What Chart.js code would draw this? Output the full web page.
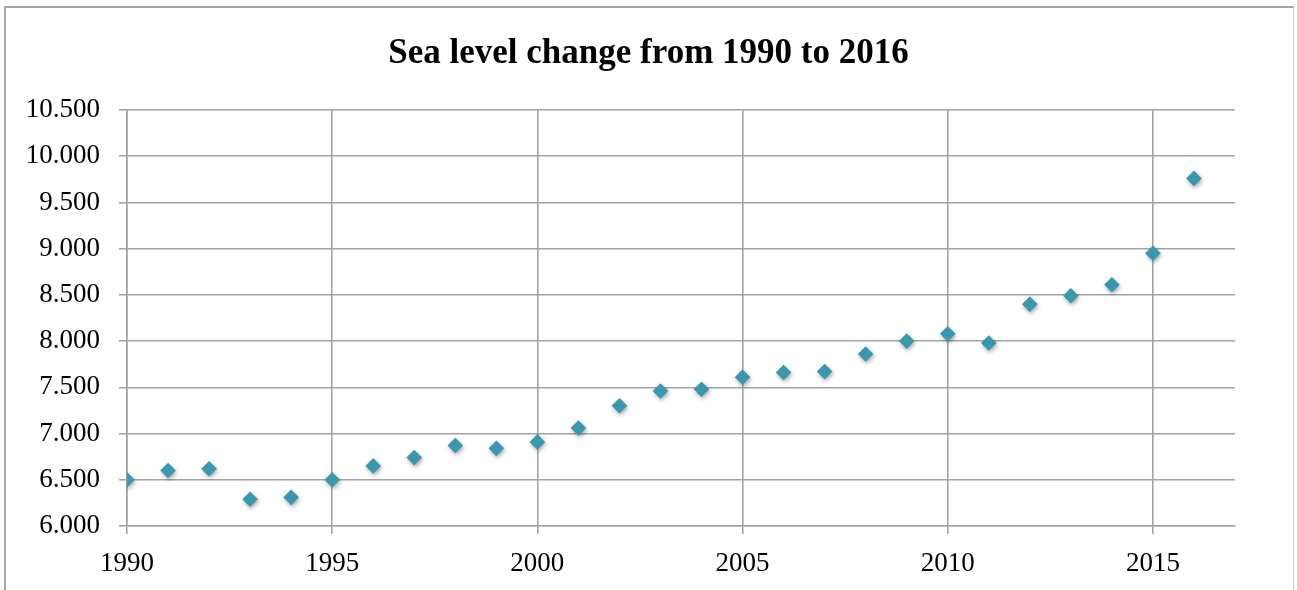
<!DOCTYPE html>
<html>
<head>
<meta charset="utf-8">
<script src="https://cdn.jsdelivr.net/npm/chart.js@4/dist/chart.umd.min.js"></script>
<style>
  html, body { margin: 0; padding: 0; background: #ffffff; }
  body { width: 1297px; height: 590px; position: relative; overflow: hidden; }
  #frame {
    position: absolute; left: 4px; top: 6px; width: 1290px; height: 600px;
    border: 2px solid #a6a6a6; border-right: 1px solid #d0d0d0; box-sizing: border-box;
  }
  #wrap { position: absolute; left: 0; top: 0; width: 1297px; height: 590px; }
</style>
</head>
<body>
<div id="frame"></div>
<div id="wrap"><canvas id="chart" width="1297" height="590"></canvas></div>
<script>
// Annual global mean sea level values
const years = [1990, 1991, 1992, 1993, 1994, 1995, 1996, 1997, 1998, 1999,
               2000, 2001, 2002, 2003, 2004, 2005, 2006, 2007, 2008, 2009,
               2010, 2011, 2012, 2013, 2014, 2015, 2016];
const seaLevel = [6.50, 6.60, 6.62, 6.29, 6.31, 6.50, 6.65, 6.74, 6.87, 6.84,
                  6.91, 7.06, 7.30, 7.46, 7.48, 7.61, 7.66, 7.67, 7.86, 8.00,
                  8.08, 7.98, 8.40, 8.49, 8.61, 8.95, 9.76];
const titleText = 'Sea level change from 1990 to 2016';
const yTickMin = 6, yTickMax = 10.5, yTickStep = 0.5;
const xTickMin = 1990, xTickMax = 2017, xTickStep = 5;

const points = years.map((y, i) => ({ x: y, y: seaLevel[i] }));

const gridColor = '#a3a3a3';
const serif = '"Liberation Serif", "Times New Roman", serif';

// soft drop shadow under the markers
const markerShadow = {
  id: 'markerShadow',
  beforeDatasetsDraw(chart) {
    const c = chart.ctx;
    c.save();
    c.shadowColor = 'rgba(0,0,0,0.35)';
    c.shadowBlur = 4;
    c.shadowOffsetX = 1;
    c.shadowOffsetY = 2;
  },
  afterDatasetsDraw(chart) {
    chart.ctx.restore();
  }
};

// chart title, centred on the whole canvas rather than the plot area
const canvasTitle = {
  id: 'canvasTitle',
  afterDraw(chart) {
    const c = chart.ctx;
    c.save();
    c.font = 'bold 35px ' + serif;
    c.fillStyle = '#000000';
    c.textAlign = 'center';
    c.textBaseline = 'middle';
    c.fillText(titleText, chart.width / 2, 54);
    c.restore();
  }
};

new Chart(document.getElementById('chart'), {
  type: 'scatter',
  data: {
    datasets: [{
      label: 'Sea level',
      data: points,
      pointStyle: 'rectRot',
      pointRadius: 7.8,
      pointHoverRadius: 7.8,
      backgroundColor: '#3a97ad',
      borderColor: '#3a97ad',
      borderWidth: 0
    }]
  },
  options: {
    responsive: false,
    animation: false,
    layout: { padding: { left: 0, right: 62, top: 110, bottom: 0 } },
    plugins: {
      legend: { display: false },
      tooltip: { enabled: false },
      title: { display: false }
    },
    scales: {
      x: {
        type: 'linear',
        min: xTickMin,
        max: xTickMax,
        afterFit(scale) { scale.height = 64; },
        ticks: {
          stepSize: xTickStep,
          includeBounds: false,
          color: '#000000',
          font: { family: serif, size: 27 },
          padding: 14,
          maxRotation: 0,
          callback: v => String(v)
        },
        grid: { color: gridColor, lineWidth: 1.6, tickLength: 8, drawTicks: true },
        border: { display: true, color: gridColor, width: 1.6 }
      },
      y: {
        type: 'linear',
        min: yTickMin,
        max: yTickMax,
        afterFit(scale) { scale.width = 127; },
        ticks: {
          stepSize: yTickStep,
          color: '#000000',
          font: { family: serif, size: 27 },
          padding: 19,
          callback: v => Number(v).toFixed(3)
        },
        grid: { color: gridColor, lineWidth: 1.6, tickLength: 8, drawTicks: true },
        border: { display: true, color: gridColor, width: 1.6 }
      }
    }
  },
  plugins: [markerShadow, canvasTitle]
});
</script>
</body>
</html>
